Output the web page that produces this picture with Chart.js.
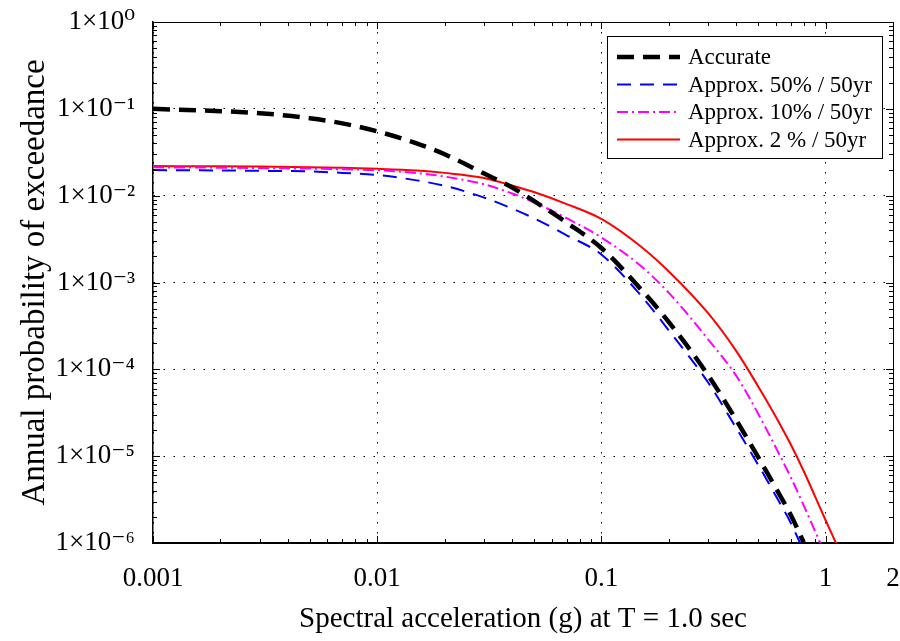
<!DOCTYPE html>
<html>
<head>
<meta charset="utf-8">
<title>Hazard curves</title>
<script src="https://cdn.jsdelivr.net/npm/chart.js@4.4.1/dist/chart.umd.min.js"></script>
<style>
  html, body { margin: 0; padding: 0; background: #fff; }
  #wrap { width: 900px; height: 641px; }
</style>
</head>
<body>
<div id="wrap"><canvas id="hazard" width="900" height="641"></canvas></div>
<script>
// spectral acceleration (g), shared by all curves
var accel = [0.001, 0.002, 0.003, 0.005, 0.007, 0.01, 0.015, 0.02, 0.03, 0.04, 0.05, 0.07,
             0.1, 0.15, 0.2, 0.3, 0.4, 0.5, 0.6, 0.7, 0.8, 0.9, 1.0, 1.1, 1.2];

// annual probability of exceedance
var accurate = [0.100, 0.094, 0.089, 0.078, 0.068, 0.055, 0.040, 0.030, 0.018, 0.0124, 0.0087, 0.0049,
                0.0025, 8.4e-4, 3.5e-4, 8.5e-5, 2.6e-5, 9.8e-6, 4.3e-6, 2.1e-6, 1.0e-6, 4.7e-7];
var approx50 = [0.0197, 0.0195, 0.0193, 0.0190, 0.0183, 0.0173, 0.0150, 0.0130, 0.0095, 0.0071, 0.0055, 0.0035,
                0.0021, 7.1e-4, 2.8e-4, 7.0e-5, 2.1e-5, 8.0e-6, 3.5e-6, 1.7e-6, 8.0e-7];
var approx10 = [0.0212, 0.0210, 0.0208, 0.0205, 0.0201, 0.0197, 0.0182, 0.0166, 0.0135, 0.0106, 0.0084, 0.0055,
                0.0033, 0.00155, 7.6e-4, 2.2e-4, 8.4e-5, 3.1e-5, 1.26e-5, 5.7e-6, 2.7e-6, 1.35e-6, 7.4e-7];
var approx2 = [0.0219, 0.0218, 0.0216, 0.0213, 0.0209, 0.0204, 0.0195, 0.0183, 0.0160, 0.0131, 0.0110, 0.0080,
               0.0054, 0.0026, 0.00134, 4.4e-4, 1.62e-4, 6.4e-5, 2.85e-5, 1.36e-5, 6.7e-6, 3.4e-6, 1.84e-6, 1.07e-6, 6.3e-7];

var seriesNames = ['Accurate', 'Approx. 50% / 50yr', 'Approx. 10% / 50yr', 'Approx. 2 % / 50yr'];

var xTickValues = [0.001, 0.01, 0.1, 1, 2];
var xTickLabels = ['0.001', '0.01', '0.1', '1', '2'];
var yTickValues = [1, 0.1, 0.01, 0.001, 1e-4, 1e-5, 1e-6];
var yTickLabels = ['1×10⁰', '1×10⁻¹', '1×10⁻²', '1×10⁻³', '1×10⁻⁴', '1×10⁻⁵', '1×10⁻⁶'];

var serif = '"Liberation Serif", "DejaVu Serif", serif';

function pts(ys) {
  return ys.map(function(v, i) { return {x: accel[i], y: v}; });
}

function labelFor(values, labels, v) {
  for (var i = 0; i < values.length; i++) {
    if (Math.abs(Math.log10(v) - Math.log10(values[i])) < 1e-6) return labels[i];
  }
  return '';
}

// box, inward ticks (matlab look)
var frameTicks = {
  id: 'frameTicks',
  afterDatasetsDraw: function(chart) {
    var ctx = chart.ctx, a = chart.chartArea, x = chart.scales.x, y = chart.scales.y;
    ctx.save();
    ctx.strokeStyle = '#000';
    ctx.lineWidth = 1;
    ctx.beginPath();
    var e, m, v, p, len;
    for (e = -3; e <= 0; e++) {
      for (m = 1; m <= 9; m++) {
        v = m * Math.pow(10, e);
        if (v > x.max) continue;
        p = Math.round(x.getPixelForValue(v)) + 0.5;
        len = m === 1 ? 7 : 4;
        ctx.moveTo(p, a.bottom); ctx.lineTo(p, a.bottom - len);
        ctx.moveTo(p, a.top); ctx.lineTo(p, a.top + len);
      }
    }
    for (e = -6; e <= 0; e++) {
      for (m = 1; m <= 9; m++) {
        v = m * Math.pow(10, e);
        if (v > 1) continue;
        p = Math.round(y.getPixelForValue(v)) + 0.5;
        len = m === 1 ? 7 : 4;
        ctx.moveTo(a.left, p); ctx.lineTo(a.left + len, p);
        ctx.moveTo(a.right, p); ctx.lineTo(a.right - len, p);
      }
    }
    ctx.stroke();
    ctx.beginPath();
    ctx.moveTo(a.left, a.top + 0.5); ctx.lineTo(a.right + 0.5, a.top + 0.5);
    ctx.lineTo(a.right + 0.5, a.bottom);
    ctx.stroke();
    ctx.restore();
  }
};

// legend in a white box inside the plot
var boxLegend = {
  id: 'boxLegend',
  afterDatasetsDraw: function(chart, args, opts) {
    var ctx = chart.ctx, a = chart.chartArea;
    var left = a.right - opts.right - opts.width;
    var top = a.top + opts.top;
    ctx.save();
    ctx.fillStyle = '#fff';
    ctx.fillRect(left, top, opts.width, opts.height);
    ctx.strokeStyle = '#000';
    ctx.lineWidth = 1;
    ctx.strokeRect(Math.round(left) + 0.5, Math.round(top) + 0.5, opts.width, opts.height);
    ctx.font = opts.font;
    ctx.textBaseline = 'middle';
    ctx.textAlign = 'left';
    chart.data.datasets.forEach(function(ds, i) {
      var yy = top + opts.firstRow + i * opts.rowGap;
      ctx.save();
      ctx.strokeStyle = ds.borderColor;
      ctx.lineWidth = ds.borderWidth;
      ctx.setLineDash(ds.borderDash || []);
      ctx.beginPath();
      ctx.moveTo(left + 10, yy);
      ctx.lineTo(left + 10 + opts.sample, yy);
      ctx.stroke();
      ctx.restore();
      ctx.fillStyle = '#000';
      ctx.fillText(ds.label, left + 81, yy + 1);
    });
    ctx.restore();
  }
};

document.addEventListener('DOMContentLoaded', function() {
  var ctx = document.getElementById('hazard').getContext('2d');
  Chart.defaults.color = '#000';

  new Chart(ctx, {
    type: 'line',
    data: {
      datasets: [
        { label: seriesNames[0], data: pts(accurate), borderColor: '#000000', borderWidth: 4.5, borderDash: [17, 9] },
        { label: seriesNames[1], data: pts(approx50), borderColor: '#0000ff', borderWidth: 2, borderDash: [14, 9] },
        { label: seriesNames[2], data: pts(approx10), borderColor: '#ff00ff', borderWidth: 2, borderDash: [11, 4, 2, 4] },
        { label: seriesNames[3], data: pts(approx2), borderColor: '#ff0000', borderWidth: 2 }
      ]
    },
    options: {
      responsive: false,
      animation: false,
      elements: {
        point: { radius: 0, hoverRadius: 0 },
        line: { cubicInterpolationMode: 'monotone', fill: false }
      },
      layout: { padding: { top: 22, right: 7, bottom: 0, left: 0 } },
      plugins: {
        legend: { display: false },
        tooltip: { enabled: false },
        boxLegend: { right: 11, top: 14, width: 275, height: 122, firstRow: 21, rowGap: 27.5,
                     sample: 63, font: '23px ' + serif }
      },
      scales: {
        x: {
          type: 'logarithmic',
          min: 0.001,
          max: 2,
          afterBuildTicks: function(scale) {
            scale.ticks = xTickValues.map(function(v) { return {value: v}; });
          },
          afterFit: function(scale) { scale.height = 98; },
          ticks: {
            autoSkip: false,
            maxRotation: 0,
            padding: 0,
            font: { family: serif, size: 27 },
            callback: function(v) { return labelFor(xTickValues, xTickLabels, v); }
          },
          // transparent tick marks only push the labels away from the axis
          grid: { drawTicks: true, tickLength: 20, tickColor: 'rgba(0,0,0,0)', color: '#000', lineWidth: 1 },
          border: { display: true, color: '#000', width: 2, dash: [1.5, 8.5] },
          title: {
            display: true,
            text: 'Spectral acceleration (g) at T = 1.0 sec',
            font: { family: serif, size: 29 },
            padding: { top: 0, bottom: 4 }
          }
        },
        y: {
          type: 'logarithmic',
          min: 1e-6,
          max: 1,
          afterBuildTicks: function(scale) {
            scale.ticks = yTickValues.map(function(v) { return {value: v}; });
          },
          afterFit: function(scale) { scale.width = 153; },
          ticks: {
            autoSkip: false,
            padding: 0,
            font: { family: serif, size: 27 },
            callback: function(v) { return labelFor(yTickValues, yTickLabels, v); }
          },
          grid: { drawTicks: true, tickLength: 18, tickColor: 'rgba(0,0,0,0)', color: '#000', lineWidth: 1 },
          border: { display: true, color: '#000', width: 1.5, dash: [1.5, 8.5] },
          title: {
            display: true,
            text: 'Annual probability of exceedance',
            font: { family: serif, size: 33 },
            padding: { top: 16, bottom: 0 }
          }
        }
      }
    },
    plugins: [frameTicks, boxLegend]
  });
});
</script>
</body>
</html>
